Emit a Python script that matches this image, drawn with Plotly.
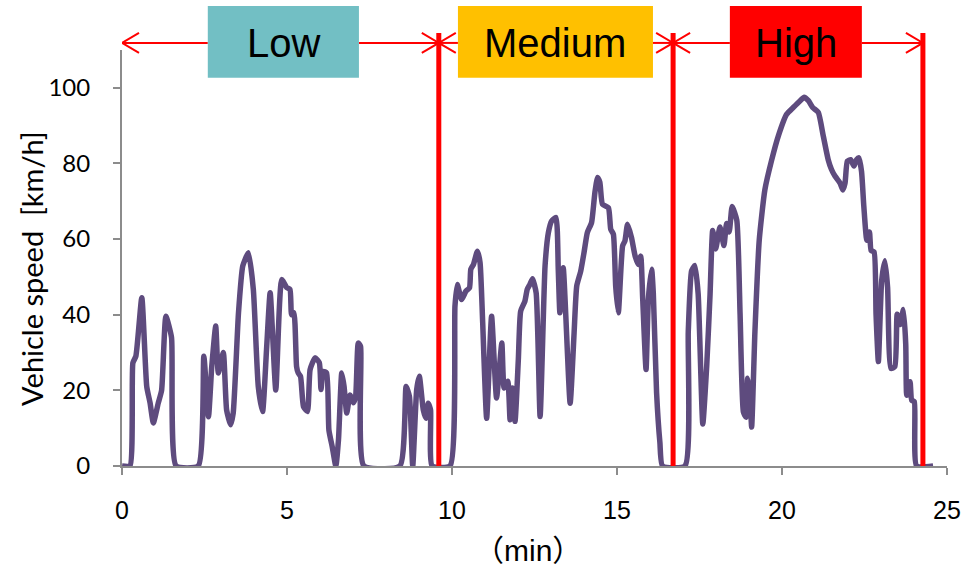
import plotly.graph_objects as go

# ---------------- data ----------------
time_min = [0, 0.24, 0.33, 0.42, 0.6, 0.75, 0.85, 0.95, 1.1, 1.2, 1.33, 1.5, 1.64, 2.31, 2.48, 2.62,
            2.72, 2.84, 2.92, 3.07, 3.17, 3.29, 3.37, 3.53, 3.66, 3.83, 3.98, 4.13, 4.26, 4.38, 4.49,
            4.66, 4.84, 4.99, 5.09, 5.14, 5.21, 5.29, 5.34, 5.41, 5.5, 5.62, 5.7, 5.85, 5.98, 6.03,
            6.1, 6.2, 6.27, 6.37, 6.48, 6.56, 6.66, 6.73, 6.81, 6.91, 7.01, 7.08, 7.16, 7.23, 7.33,
            8.42, 8.61, 8.71, 8.81, 8.93, 9.01, 9.13, 9.21, 9.28, 9.35, 9.4, 9.94,
            10.09, 10.16, 10.29, 10.42, 10.53, 10.57, 10.65, 10.77, 10.85, 10.93, 11.05, 11.2, 11.35,
            11.51, 11.58, 11.69, 11.76, 11.83, 11.91, 12.01, 12.08, 12.21, 12.28, 12.36, 12.44, 12.55,
            12.67, 12.82, 12.92, 13.02, 13.15, 13.22, 13.27, 13.37, 13.58, 13.7, 13.78, 13.9, 14.0,
            14.1, 14.23, 14.33, 14.41, 14.48, 14.56, 14.74, 14.81, 14.89, 14.96, 15.04, 15.17, 15.24,
            15.32, 15.44, 15.55, 15.65, 15.72, 15.78, 15.88, 15.95, 16.05, 16.1, 16.2, 16.3, 16.38,
            17.06, 17.16, 17.26, 17.36, 17.46, 17.6, 17.72, 17.82, 17.9, 17.99, 18.12, 18.24, 18.32,
            18.4, 18.49, 18.63, 18.73, 18.83, 18.91, 18.96, 19.03, 19.08, 19.18, 19.31, 19.48, 19.69,
            19.89, 20.14, 20.34, 20.55, 20.67, 20.8, 20.93, 21.1, 21.25, 21.4, 21.5, 21.61, 21.76,
            21.84, 21.91, 21.98, 22.08, 22.18, 22.26, 22.33, 22.41, 22.48, 22.57, 22.65, 22.7, 22.79,
            22.85, 22.92, 23.02, 23.12, 23.2, 23.3, 23.42, 23.49, 23.58, 23.68, 23.75, 23.78, 23.88,
            23.93, 24.01, 24.08, 24.58]
speed_kmh = [0, 0, 27.3, 29, 44.5, 21, 16.7, 11.4, 16.7, 20, 39.6, 34, 0, 0, 29, 13,
             26.3, 37, 24.6, 30, 14.8, 10.9, 14, 40.5, 52.9, 56.4, 46.7, 21, 14.4, 30.8, 45.8,
             20.1, 49.3, 47.2, 46.7, 40, 40.5, 26.3, 24.6, 23.7, 15.7, 14.4, 25.5, 28.6, 27.3, 20.2,
             25, 24.6, 9.5, 5.1, 0, 6.9, 24.6, 21, 14, 18.8, 16.7, 18.4, 32.5, 31.6, 0,
             0, 21, 18.4, 0, 20.2, 23.7, 14.8, 12.6, 16.6, 14.8, 0, 0,
             42.3, 48, 44, 46.2, 47.1, 52, 53.3, 56.8, 53.8, 37.9, 12.6, 39.6, 18,
             32.5, 20.6, 22.4, 12.2, 20.6, 11.8, 28.1, 40.9, 43.6, 46.7, 48, 49.5, 45.8,
             13.1, 52.9, 61.7, 64.8, 65.7, 52, 40.5, 52.4, 16.6, 35.2, 47.6, 51.5, 56.4,
             61.7, 64.4, 72.3, 76.3, 75, 69.2, 68.3, 62.6, 61.3, 47.6, 40.5, 58.2, 59.5,
             63.9, 60.4, 55.5, 53.3, 55.5, 44, 25.5, 44, 52, 45.8, 19.3, 6.2, 0,
             0, 35.6, 51.6, 53, 45.4, 11.1, 26.7, 45.4, 62.3, 57.4, 63.2, 58.3, 64.1,
             61.9, 68.6, 65, 40.1, 14.3, 12.9, 23.2, 18.7, 10.3, 35.6, 59.7, 73, 81,
             87.3, 93, 94.8, 96.6, 97.5, 96.6, 94.8, 93.5, 87.3, 81, 78.4, 76.6, 74.8,
             73, 74.8, 80.6, 81, 79.3, 81, 81.5, 77.9, 68.6, 59.7, 61.9, 57, 56.6,
             40.1, 27.6, 49, 54.3, 47.2, 25.8, 26.3, 40.1, 37.4, 41.4, 32.1, 18.7, 22.3,
             17.4, 17, 0, 0]

zone_bounds = [0, 9.6, 16.7, 24.27]
zone_labels = ["Low", "Medium", "High"]
x_ticks = [0, 5, 10, 15, 20, 25]
y_ticks = [0, 20, 40, 60, 80, 100]
x_title = "（min）"
y_title = "Vehicle speed  [km/h]"

# ---------------- styling / layout ----------------
zone_colors = ["#72BFC4", "#FFC000", "#FF0000"]
box_x = [(2.6, 7.18), (10.18, 16.09), (18.42, 22.42)]
RED = "#FF0000"
AX = "#8C8C8C"
ARROW_Y = 1.017
BOX_Y0, BOX_Y1 = 0.933, 1.106
LINE_TOP = 1.041

fig = go.Figure()
fig.add_trace(go.Scatter(x=time_min, y=speed_kmh, mode="lines",
                         line=dict(color="#5E4B7E", width=5.5, shape="spline", smoothing=0.5),
                         showlegend=False, hoverinfo="skip"))

shapes = []
for b in zone_bounds[1:]:
    shapes.append(dict(type="line", xref="x", yref="paper", x0=b, x1=b, y0=0, y1=LINE_TOP,
                       line=dict(color=RED, width=5), layer="above"))


def vhead(xtip, direction):
    d = -direction * 17
    return dict(type="path", xref="x", yref="paper", xsizemode="pixel", ysizemode="pixel",
                xanchor=xtip, yanchor=ARROW_Y,
                path=f"M{d},10 L0,0 L{d},-10", line=dict(color=RED, width=2), layer="above")


for i in range(3):
    lo, hi = zone_bounds[i], zone_bounds[i + 1]
    bx0, bx1 = box_x[i]
    shapes.append(dict(type="line", xref="x", yref="paper", x0=lo, x1=bx0, y0=ARROW_Y, y1=ARROW_Y,
                       line=dict(color=RED, width=2), layer="above"))
    shapes.append(dict(type="line", xref="x", yref="paper", x0=bx1, x1=hi, y0=ARROW_Y, y1=ARROW_Y,
                       line=dict(color=RED, width=2), layer="above"))
    shapes.append(vhead(lo, -1))
    shapes.append(vhead(hi, +1))
    shapes.append(dict(type="rect", xref="x", yref="paper", x0=bx0, x1=bx1, y0=BOX_Y0, y1=BOX_Y1,
                       fillcolor=zone_colors[i], line=dict(width=0), layer="above"))

annotations = []
for i in range(3):
    bx0, bx1 = box_x[i]
    annotations.append(dict(x=(bx0 + bx1) / 2, y=ARROW_Y, xref="x", yref="paper",
                            text=zone_labels[i], showarrow=False,
                            font=dict(family="Liberation Sans, Arial", size=40, color="black"),
                            xanchor="center", yanchor="middle"))

# axis titles placed as annotations for precise positioning
annotations.append(dict(x=0.492, y=-0.204, xref="paper", yref="paper", text=x_title,
                        showarrow=False, xanchor="center", yanchor="middle",
                        font=dict(family="Liberation Sans, Noto Sans CJK JP", size=30, color="black")))
annotations.append(dict(x=-0.109, y=0.474, xref="paper", yref="paper", text=y_title,
                        showarrow=False, xanchor="center", yanchor="middle", textangle=-90,
                        font=dict(family="Lato, Open Sans", size=29, color="black")))

fig.update_layout(
    width=973, height=566,
    margin=dict(l=122, r=26, t=50, b=100),
    paper_bgcolor="white", plot_bgcolor="white",
    shapes=shapes, annotations=annotations,
    xaxis=dict(range=[0, 25], tickvals=x_ticks, showgrid=False, zeroline=False,
               showline=True, linecolor=AX, linewidth=2, ticks="outside", ticklen=7,
               tickcolor=AX, tickwidth=2, layer="below traces",
               tickfont=dict(family="Liberation Sans Narrow, Liberation Sans", size=25, color="black"),
               ticklabelstandoff=14),
    yaxis=dict(range=[0, 110], tickvals=y_ticks, showgrid=False, zeroline=False,
               showline=True, linecolor=AX, linewidth=2, ticks="outside", ticklen=7,
               tickcolor=AX, tickwidth=2, layer="below traces",
               tickfont=dict(family="Lato, Open Sans", size=24, color="black"),
               ticklabelstandoff=18),
)

fig.write_html("out.html")
